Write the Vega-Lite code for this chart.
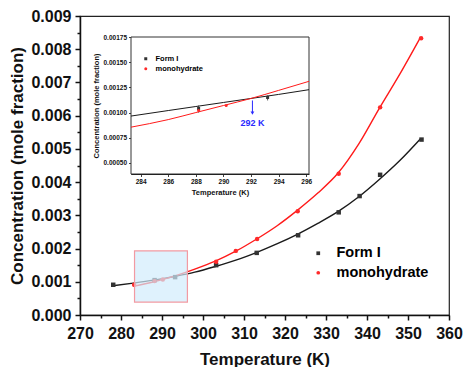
{
  "$schema": "https://vega.github.io/schema/vega-lite/v6.json",
  "width": 369,
  "height": 299,
  "autosize": "none",
  "padding": {"left": 80, "top": 16, "right": 14, "bottom": 52},
  "config": {
    "view": {"stroke": "#222", "strokeWidth": 1.2},
    "font": "Liberation Sans",
    "axis": {"grid": false, "labelOverlap": false, "domainColor": "#111", "tickColor": "#111", "labelColor": "#111", "titleColor": "#111", "labelFont": "Liberation Sans", "titleFont": "Liberation Sans"},
    "legend": {"labelFont": "Liberation Sans"}
  },
  "datasets": {
    "curveI": [
      {"T": 278, "C": 0.00088}, {"T": 283, "C": 0.00096}, {"T": 288, "C": 0.00105}, {"T": 293, "C": 0.00116},
      {"T": 298, "C": 0.00129}, {"T": 303, "C": 0.00146}, {"T": 308, "C": 0.00165}, {"T": 313, "C": 0.00188},
      {"T": 318, "C": 0.00214}, {"T": 323, "C": 0.00243}, {"T": 328, "C": 0.00276}, {"T": 333, "C": 0.00312},
      {"T": 338, "C": 0.00356}, {"T": 343, "C": 0.00408}, {"T": 348, "C": 0.00465}, {"T": 353, "C": 0.0053}
    ],
    "curveM": [
      {"T": 283, "C": 0.00086}, {"T": 288, "C": 0.001}, {"T": 293, "C": 0.00117}, {"T": 298, "C": 0.00138},
      {"T": 303, "C": 0.00162}, {"T": 308, "C": 0.00192}, {"T": 313, "C": 0.00228}, {"T": 318, "C": 0.00268},
      {"T": 323, "C": 0.00315}, {"T": 328, "C": 0.00367}, {"T": 333, "C": 0.00428}, {"T": 338, "C": 0.00515},
      {"T": 343, "C": 0.00622}, {"T": 348, "C": 0.00725}, {"T": 353, "C": 0.00835}
    ],
    "ptsMain": [
      {"T": 278.1, "C": 0.00091, "series": "Form I"},
      {"T": 288.2, "C": 0.00105, "series": "Form I"},
      {"T": 293.2, "C": 0.00114, "series": "Form I"},
      {"T": 303.2, "C": 0.0015, "series": "Form I"},
      {"T": 313.1, "C": 0.00187, "series": "Form I"},
      {"T": 323.2, "C": 0.0024, "series": "Form I"},
      {"T": 333.1, "C": 0.00309, "series": "Form I"},
      {"T": 338.2, "C": 0.00358, "series": "Form I"},
      {"T": 343.2, "C": 0.00422, "series": "Form I"},
      {"T": 353.3, "C": 0.00528, "series": "Form I"},
      {"T": 283.2, "C": 0.00091, "series": "monohydrate"},
      {"T": 288.2, "C": 0.00102, "series": "monohydrate"},
      {"T": 290.2, "C": 0.00107, "series": "monohydrate"},
      {"T": 303.2, "C": 0.0016, "series": "monohydrate"},
      {"T": 308.0, "C": 0.00193, "series": "monohydrate"},
      {"T": 313.2, "C": 0.00229, "series": "monohydrate"},
      {"T": 323.1, "C": 0.00312, "series": "monohydrate"},
      {"T": 333.1, "C": 0.00425, "series": "monohydrate"},
      {"T": 343.2, "C": 0.00625, "series": "monohydrate"},
      {"T": 353.2, "C": 0.00833, "series": "monohydrate"}
    ],
    "rectMain": [{"x0": 283.3, "x1": 296.2, "y0": 0.00039, "y1": 0.00193}],
    "insetFrame": [{"x0": 283.3, "x1": 296.2, "y0": 0.00039, "y1": 0.00175}],
    "insetI": [
      {"T": 283.3, "C": 0.000965}, {"T": 286, "C": 0.00102}, {"T": 288, "C": 0.00106}, {"T": 290, "C": 0.0011},
      {"T": 292, "C": 0.00114}, {"T": 294, "C": 0.00118}, {"T": 296.2, "C": 0.001227}
    ],
    "insetM": [
      {"T": 283.3, "C": 0.000855}, {"T": 286, "C": 0.00093}, {"T": 288, "C": 0.001}, {"T": 290, "C": 0.00107},
      {"T": 292, "C": 0.00114}, {"T": 294, "C": 0.00122}, {"T": 296.2, "C": 0.00131}
    ],
    "ptsInset": [
      {"T": 288.2, "C": 0.00104, "series": "Form I"},
      {"T": 293.2, "C": 0.00115, "series": "Form I"},
      {"T": 288.2, "C": 0.00102, "series": "monohydrate"},
      {"T": 290.2, "C": 0.00107, "series": "monohydrate"}
    ],
    "errInset": [
      {"T": 288.2, "lo": 0.001, "hi": 0.00107},
      {"T": 293.2, "lo": 0.00112, "hi": 0.00117}
    ],
    "arrow": [{"T": 292.1, "top": 0.00112, "bot": 0.001, "head": 0.000995, "ty": 0.0009, "label": "292 K"}]
  },
  "layer": [
    {
      "data": {"name": "curveI"},
      "mark": {"type": "line", "color": "#1a1a1a", "strokeWidth": 1.4, "interpolate": "monotone"},
      "encoding": {
        "x": {"field": "T", "type": "quantitative", "title": "Temperature (K)",
          "scale": {"domain": [270, 360], "nice": false, "zero": false},
          "axis": {
            "values": [270, 280, 290, 300, 310, 320, 330, 340, 350, 360],
            "tickSize": 5,
            "labelFontSize": 16, "labelFontWeight": "bold", "labelPadding": 5,
            "titleFontSize": 17, "titleFontWeight": "bold", "titlePadding": 10,
            "domainWidth": 1.5, "tickWidth": 1.5, "labelFlush": false, "labelOverlap": false
          }
        },
        "y": {"field": "C", "type": "quantitative", "title": "Concentration (mole fraction)",
          "scale": {"domain": [0, 0.009], "nice": false, "zero": false},
          "axis": {
            "values": [0, 0.001, 0.002, 0.003, 0.004, 0.005, 0.006, 0.007, 0.008, 0.009],
            "tickCount": 10,
            "format": ".3f",
            "tickSize": 5,
            "labelFontSize": 16, "labelFontWeight": "bold", "labelPadding": 4,
            "titleFontSize": 17, "titleFontWeight": "bold", "titlePadding": 4,
            "domainWidth": 1.5, "tickWidth": 1.5, "labelFlush": false, "labelOverlap": false
          }
        }
      }
    },
    {
      "data": {"name": "curveM"},
      "mark": {"type": "line", "color": "#ff1a1a", "strokeWidth": 1.4, "interpolate": "monotone"},
      "encoding": {
        "x": {"field": "T", "type": "quantitative", "scale": {"domain": [270, 360], "nice": false, "zero": false}, "axis": null},
        "y": {"field": "C", "type": "quantitative", "scale": {"domain": [0, 0.009], "nice": false, "zero": false}, "axis": null}
      }
    },
    {
      "data": {"name": "ptsMain"},
      "mark": {"type": "point", "filled": true, "opacity": 1},
      "encoding": {
        "x": {"field": "T", "type": "quantitative", "scale": {"domain": [270, 360], "nice": false, "zero": false}, "axis": null},
        "y": {"field": "C", "type": "quantitative", "scale": {"domain": [0, 0.009], "nice": false, "zero": false}, "axis": null},
        "color": {"field": "series", "type": "nominal",
          "scale": {"domain": ["Form I", "monohydrate"], "range": ["#333333", "#ff2a2a"]},
          "legend": {"orient": "none", "legendX": 231, "legendY": 230, "title": null, "labelFontSize": 14.5, "labelFontWeight": "bold", "symbolSize": 14, "rowPadding": 4.5, "labelOffset": 11}
        },
        "shape": {"field": "series", "type": "nominal",
          "scale": {"domain": ["Form I", "monohydrate"], "range": ["square", "circle"]},
          "legend": {"orient": "none", "legendX": 231, "legendY": 230, "title": null, "labelFontSize": 14.5, "labelFontWeight": "bold", "symbolSize": 14, "rowPadding": 4.5, "labelOffset": 11}
        },
        "size": {"value": 20}
      }
    },
    {
      "data": {"name": "rectMain"},
      "mark": {"type": "rect", "fill": "#d2edfc", "fillOpacity": 0.7, "stroke": "#f29aa2", "strokeWidth": 1.2},
      "encoding": {
        "x": {"field": "x0", "type": "quantitative", "scale": {"domain": [270, 360], "nice": false, "zero": false}, "axis": null},
        "x2": {"field": "x1"},
        "y": {"field": "y0", "type": "quantitative", "scale": {"domain": [0, 0.009], "nice": false, "zero": false}, "axis": null},
        "y2": {"field": "y1"}
      }
    },
    {
      "data": {"name": "rectMain"},
      "mark": {"type": "rect", "opacity": 0},
      "encoding": {
        "x": {"field": "x0", "type": "quantitative",
          "scale": {"domain": [270, 360], "nice": false, "zero": false},
          "axis": {"orient": "bottom", "title": null, "labels": false, "domain": false,
            "values": [275, 285, 295, 305, 315, 325, 335, 345, 355], "tickSize": 3, "tickWidth": 1.5}
        },
        "x2": {"field": "x1"},
        "y": {"field": "y0", "type": "quantitative",
          "scale": {"domain": [0, 0.009], "nice": false, "zero": false},
          "axis": {"orient": "left", "title": null, "labels": false, "domain": false,
            "values": [0.0005, 0.0015, 0.0025, 0.0035, 0.0045, 0.0055, 0.0065, 0.0075, 0.0085], "tickSize": 3, "tickWidth": 1.5}
        },
        "y2": {"field": "y1"}
      }
    },
    {
      "data": {"name": "insetFrame"},
      "mark": {"type": "rect", "fill": "white", "stroke": "#333", "strokeWidth": 1},
      "encoding": {
        "x": {"field": "x0", "type": "quantitative", "title": "Temperature (K)",
          "scale": {"domain": [283.3, 296.2], "range": [51, 229], "nice": false, "zero": false},
          "axis": {
            "orient": "bottom", "offset": -141,
            "values": [284, 286, 288, 290, 292, 294, 296],
            "tickSize": 2.5,
            "labelFontSize": 6.5, "labelFontWeight": "bold", "labelPadding": 2,
            "titleFontSize": 7.5, "titleFontWeight": "bold", "titlePadding": 3,
            "domainWidth": 1, "tickWidth": 0.8, "labelFlush": false, "labelOverlap": false
          }
        },
        "x2": {"field": "x1"},
        "y": {"field": "y0", "type": "quantitative", "title": "Concentration (mole fraction)",
          "scale": {"domain": [0.00039, 0.00175], "range": [158, 21], "nice": false, "zero": false},
          "axis": {
            "orient": "left", "offset": -51,
            "values": [0.0005, 0.00075, 0.001, 0.00125, 0.0015, 0.00175],
            "format": ".5f",
            "tickSize": 2.5,
            "labelFontSize": 6.5, "labelFontWeight": "bold", "labelPadding": 2,
            "titleFontSize": 7.5, "titleFontWeight": "bold", "titlePadding": 3,
            "domainWidth": 1, "tickWidth": 0.8, "labelFlush": false, "labelOverlap": false
          }
        },
        "y2": {"field": "y1"}
      }
    },
    {
      "layer": [
        {
          "data": {"name": "insetI"},
          "mark": {"type": "line", "color": "#1a1a1a", "strokeWidth": 1, "interpolate": "monotone"},
          "encoding": {
            "x": {"field": "T", "type": "quantitative"},
            "y": {"field": "C", "type": "quantitative"}
          }
        },
        {
          "data": {"name": "insetM"},
          "mark": {"type": "line", "color": "#ff1a1a", "strokeWidth": 1, "interpolate": "monotone"},
          "encoding": {
            "x": {"field": "T", "type": "quantitative"},
            "y": {"field": "C", "type": "quantitative"}
          }
        },
        {
          "data": {"name": "errInset"},
          "mark": {"type": "rule", "color": "#333", "strokeWidth": 0.8},
          "encoding": {
            "x": {"field": "T", "type": "quantitative"},
            "y": {"field": "lo", "type": "quantitative"},
            "y2": {"field": "hi"}
          }
        },
        {
          "data": {"name": "ptsInset"},
          "mark": {"type": "point", "filled": true, "opacity": 1},
          "encoding": {
            "x": {"field": "T", "type": "quantitative"},
            "y": {"field": "C", "type": "quantitative"},
            "color": {"field": "series", "type": "nominal",
              "scale": {"domain": ["Form I", "monohydrate"], "range": ["#333333", "#ff2a2a"]},
              "legend": {"orient": "none", "legendX": 62, "legendY": 39, "title": null, "labelFontSize": 7.5, "labelFontWeight": "bold", "symbolSize": 9, "rowPadding": 1, "labelOffset": 6}
            },
            "shape": {"field": "series", "type": "nominal",
              "scale": {"domain": ["Form I", "monohydrate"], "range": ["square", "circle"]},
              "legend": {"orient": "none", "legendX": 62, "legendY": 39, "title": null, "labelFontSize": 7.5, "labelFontWeight": "bold", "symbolSize": 9, "rowPadding": 1, "labelOffset": 6}
            },
            "size": {"value": 9}
          }
        },
        {
          "data": {"name": "arrow"},
          "mark": {"type": "rule", "color": "#2a2aff", "strokeWidth": 1},
          "encoding": {
            "x": {"field": "T", "type": "quantitative"},
            "y": {"field": "top", "type": "quantitative"},
            "y2": {"field": "bot"}
          }
        },
        {
          "data": {"name": "arrow"},
          "mark": {"type": "point", "shape": "triangle-down", "filled": true, "color": "#2a2aff", "size": 14, "opacity": 1},
          "encoding": {
            "x": {"field": "T", "type": "quantitative"},
            "y": {"field": "head", "type": "quantitative"}
          }
        },
        {
          "data": {"name": "arrow"},
          "mark": {"type": "text", "color": "#2a2aff", "fontSize": 9, "fontWeight": "bold", "font": "Liberation Sans", "baseline": "middle", "align": "center"},
          "encoding": {
            "x": {"field": "T", "type": "quantitative"},
            "y": {"field": "ty", "type": "quantitative"},
            "text": {"field": "label"}
          }
        }
      ],
      "encoding": {
        "x": {"scale": {"domain": [283.3, 296.2], "range": [51, 229], "nice": false, "zero": false}, "axis": null},
        "y": {"scale": {"domain": [0.00039, 0.00175], "range": [158, 21], "nice": false, "zero": false}, "axis": null}
      }
    }
  ],
  "resolve": {
    "scale": {"x": "independent", "y": "independent", "color": "independent", "shape": "independent"},
    "axis": {"x": "independent", "y": "independent"},
    "legend": {"color": "independent", "shape": "independent"}
  }
}
